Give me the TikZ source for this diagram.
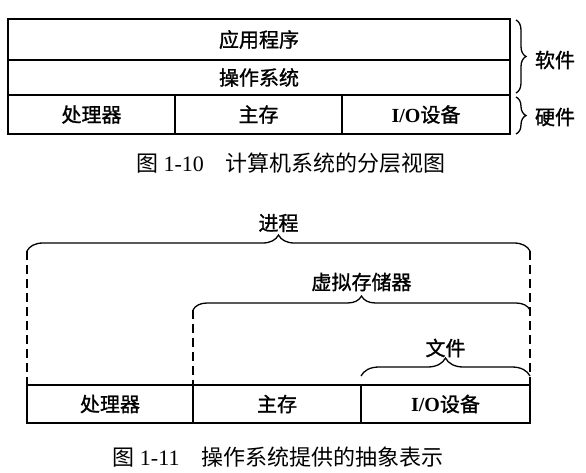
\documentclass[tikz,border=0pt]{standalone}
\usepackage{fontspec}
\setmainfont{Liberation Serif}
\newfontfamily\cjk{Noto Sans CJK SC}
\newfontfamily\cjkb{Noto Sans CJK SC}[FakeBold=1.2]
\usetikzlibrary{positioning}
\usetikzlibrary{calc}
\usetikzlibrary{decorations.pathreplacing}
\tikzset{every picture/.style={line width=1.6pt}}

\begin{document}
\begin{tikzpicture}[x=1pt,y=-1pt,
cell/.style={draw,rectangle,inner sep=0pt,outer sep=0pt,font=\fontsize{20}{20}\cjkb},
lbl/.style={inner sep=0pt,font=\fontsize{20}{20}\cjkb},
captext/.style={inner sep=0pt,font=\fontsize{22}{22}\selectfont},
brc/.style={decorate,decoration={brace,amplitude=#1},line width=1.3pt},
dsh/.style={dash pattern=on 9pt off 5pt,line width=1.4pt}]
\useasboundingbox (0,0) rectangle (586,472);

\node (app) at (259,39.5) [cell,minimum width=502pt,minimum height=41pt] {应用程序};
\node (os) [cell,minimum width=502pt,minimum height=35pt,below=0pt of app] {操作系统};
\node (cpu) [cell,minimum width=167pt,minimum height=39pt,below right=0pt and 0pt of os.south west,anchor=north west] {处理器};
\node (mem) [cell,minimum width=167pt,minimum height=39pt,right=0pt of cpu] {主存};
\node (io) [cell,minimum width=168pt,minimum height=39pt,right=0pt of mem] {{\rmfamily\bfseries I/O}设备};
\draw[brc=10] ($(app.north east)+(6,1)$) -- ($(os.south east)+(6,-2)$);
\draw[brc=10] ($(cpu.north east -| io.north east)+(6,2)$) -- ($(io.south east)+(6,0)$);
\node (sw) at (555,60) [lbl] {软件};
\node (hw) at (555,117) [lbl] {硬件};
\node (cap1) at (291,163) [captext] {{\cjk 图} 1-10\hspace{1em}{\cjk 计算机系统的分层视图}};

\node (cpu2) at (110,404) [cell,minimum width=166pt,minimum height=38pt] {处理器};
\node (mem2) [cell,minimum width=168pt,minimum height=38pt,right=0pt of cpu2] {主存};
\node (io2) [cell,minimum width=169pt,minimum height=38pt,right=0pt of mem2] {{\rmfamily\bfseries I/O}设备};
\coordinate (p1) at ($(cpu2.north west)+(0,-134)$);
\coordinate (p2) at ($(io2.north east)+(0,-134)$);
\coordinate (v1) at ($(mem2.north west)+(0,-75)$);
\coordinate (v2) at ($(io2.north east)+(0,-75)$);
\coordinate (f1) at ($(io2.north west)+(0,-9)$);
\coordinate (f2) at ($(io2.north east)+(0,-9)$);
\draw[brc=16] (p1) -- (p2);
\draw[brc=14] (v1) -- (v2);
\draw[brc=18] (f1) -- (f2);
\draw[dsh] (p1) -- (cpu2.north west);
\draw[dsh] (p2) -- (io2.north east);
\draw[dsh] (v1) -- (mem2.north west);
\node (proc) at ($(p1)!0.5!(p2)+(0,-28)$) [lbl] {进程};
\node (vm) at ($(v1)!0.5!(v2)+(0,-28)$) [lbl] {虚拟存储器};
\node (file) at ($(f1)!0.5!(f2)+(0,-28)$) [lbl] {文件};
\node (cap2) at (278,457) [captext] {{\cjk 图} 1-11\hspace{1em}{\cjk 操作系统提供的抽象表示}};
\end{tikzpicture}
\end{document}
